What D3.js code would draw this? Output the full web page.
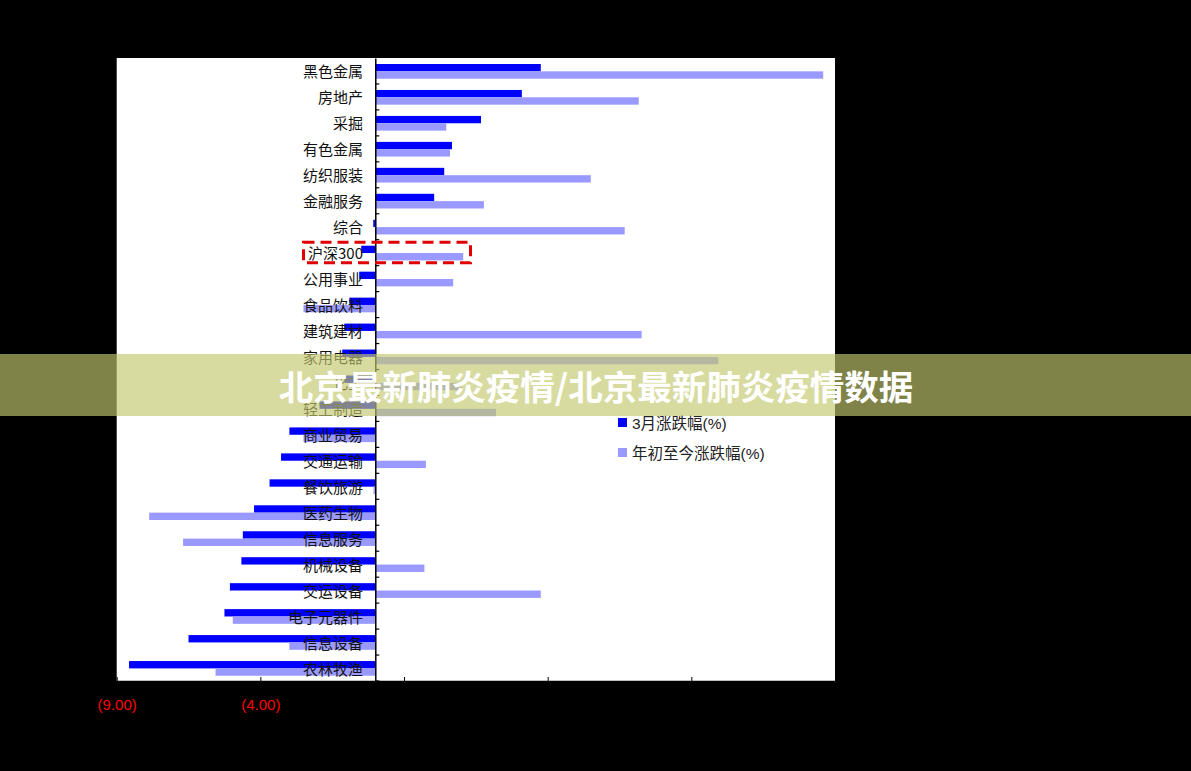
<!DOCTYPE html>
<html><head><meta charset="utf-8">
<script src="https://cdn.jsdelivr.net/npm/d3@7"></script>
<style>html,body{margin:0;padding:0;background:#000;}svg{display:block;}</style>
</head><body>
<svg id="c" width="1191" height="771"></svg>
<script>
const categories = ["黑色金属","房地产","采掘","有色金属","纺织服装","金融服务","综合","沪深300","公用事业","食品饮料","建筑建材","家用电器","化工","轻工制造","商业贸易","交通运输","餐饮旅游","医药生物","信息服务","机械设备","交运设备","电子元器件","信息设备","农林牧渔"];
const marchChange = [5.76,5.10,3.68,2.67,2.40,2.05,-0.07,-0.49,-0.56,-0.90,-1.08,-1.15,-1.07,-1.94,-2.99,-3.28,-3.68,-4.22,-4.61,-4.66,-5.06,-5.25,-6.50,-8.57];
const ytdChange = [15.59,9.17,2.47,2.60,7.50,3.78,8.68,3.06,2.71,-2.50,9.27,11.94,3.00,4.20,-2.50,1.76,-0.06,-7.87,-6.69,1.71,5.76,-4.96,-2.99,-5.56];
const seriesNames = ["3月涨跌幅(%)","年初至今涨跌幅(%)"];
const xTicks = [-9,-4,1,6,11,16];
const bannerText = "北京最新肺炎疫情/北京最新肺炎疫情数据";

const svg = d3.select("#c");
const L = 116.7, R = 835, T = 58, B = 681;
svg.append("rect").attr("x",0).attr("y",0).attr("width",1191).attr("height",771).attr("fill","#000");
svg.append("rect").attr("x",L).attr("y",T).attr("width",R-L).attr("height",B-T).attr("fill","#fff");

const x = d3.scaleLinear().domain([-9,16]).range([L,R]);
const y = d3.scaleBand().domain(categories).range([T,B]).paddingInner(0).paddingOuter(0);
const inner = d3.scaleBand().domain([0,1]).range([6, 6+14.7]);
const colors = ["#0000ff","#9999ff"];
const series = [marchChange, ytdChange];

const g = svg.append("g");
series.forEach((vals,si)=>{
  g.selectAll(null).data(categories).enter().append("rect")
    .attr("x",(d,i)=>x(Math.min(0,vals[i])))
    .attr("width",(d,i)=>Math.abs(x(vals[i])-x(0)))
    .attr("y",d=>y(d)+inner(si))
    .attr("height",inner.bandwidth())
    .attr("fill",colors[si]);
});

// y axis at zero
const yAxis = d3.axisRight(y).tickSize(4).tickFormat("").tickSizeOuter(0);
const ya = svg.append("g").attr("transform",`translate(${x(0)},0)`).call(yAxis);
ya.select(".domain").attr("stroke","#000").attr("stroke-width",1.5);
ya.selectAll(".tick").attr("transform",d=>`translate(0,${y(d)+y.bandwidth()})`);
ya.selectAll(".tick line").attr("stroke","#000").attr("stroke-width",1.2);

// category labels
svg.append("g").selectAll("text").data(categories).enter().append("text")
  .attr("x",363).attr("y",d=>y(d)+y.bandwidth()/2)
  .attr("text-anchor","end").attr("dominant-baseline","central")
  .attr("font-family","'Noto Sans CJK SC','DejaVu Serif',serif").attr("font-size",15)
  .attr("fill","#111").text(d=>d);

// x axis at bottom
const xAxis = d3.axisBottom(x).tickValues(xTicks).tickSize(-4).tickSizeOuter(0)
  .tickFormat(d=> d<0 ? "("+Math.abs(d).toFixed(2)+")" : d.toFixed(2));
const xa = svg.append("g").attr("transform",`translate(0,${B})`).call(xAxis);
xa.select(".domain").attr("stroke","#000").attr("stroke-width",1.5);
xa.selectAll(".tick line").attr("stroke","#000");
xa.selectAll(".tick text").attr("y",18).attr("font-family","'Liberation Sans',Arial,sans-serif")
  .attr("font-size",15).attr("fill",d=>d<0?"#ff0000":"#000");

// red dashed highlight box around 沪深300
const hi = "沪深300";
svg.append("rect").attr("x",303.5).attr("y",y(hi)+y.bandwidth()/2-10.5)
  .attr("width",167).attr("height",20.5)
  .attr("fill","none").attr("stroke","#e00000").attr("stroke-width",3).attr("stroke-dasharray","11 6");

// legend
const lg = svg.append("g").attr("transform","translate(618,418)");
seriesNames.forEach((n,i)=>{
  lg.append("rect").attr("x",0).attr("y",i*30).attr("width",9).attr("height",9).attr("fill",colors[i]);
  lg.append("text").attr("x",14).attr("y",i*30+5).attr("dominant-baseline","central")
    .attr("font-family","'Liberation Sans','Noto Sans CJK SC',sans-serif").attr("font-size",15.5)
    .attr("fill","#222").text(n);
});

// banner overlay
svg.append("rect").attr("x",0).attr("y",354).attr("width",1191).attr("height",62)
  .attr("fill","rgb(195,200,110)").attr("fill-opacity",0.655);
svg.append("text").attr("x",596).attr("y",385).attr("text-anchor","middle").attr("dominant-baseline","central")
  .attr("font-family","'Noto Sans CJK SC',sans-serif").attr("font-weight",700).attr("font-size",34.5)
  .attr("fill","#fff").text(bannerText);
</script>
</body></html>
